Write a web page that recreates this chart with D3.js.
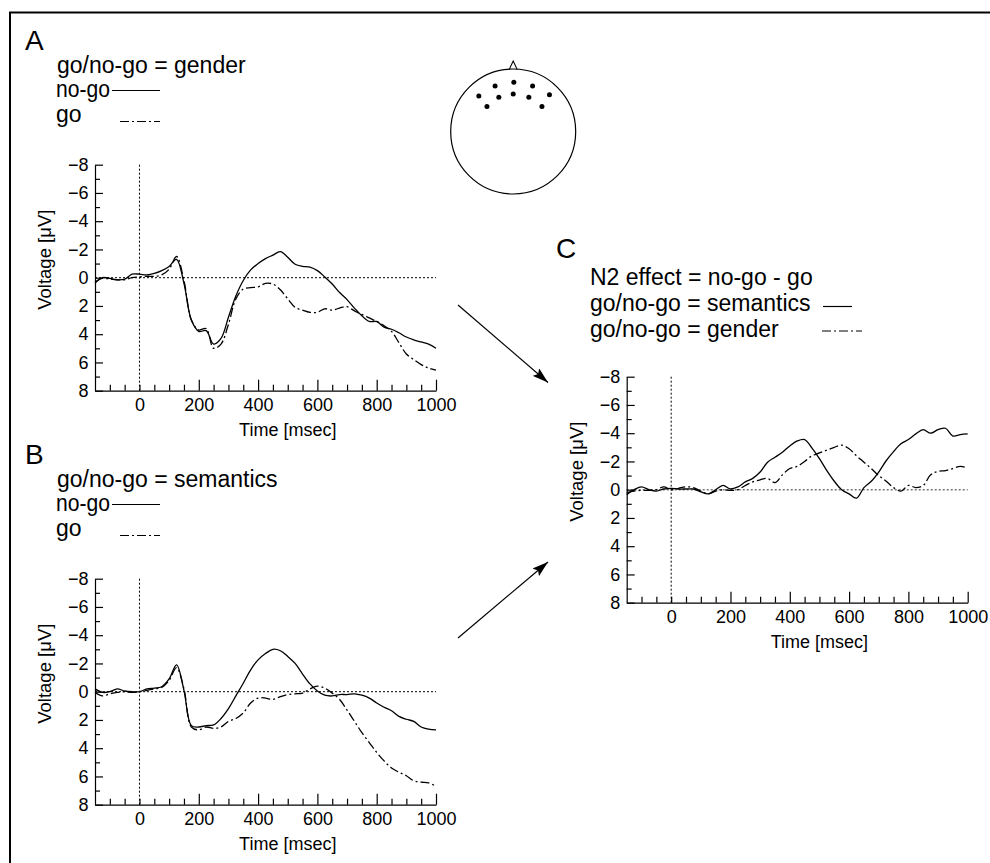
<!DOCTYPE html>
<html>
<head>
<meta charset="utf-8">
<script src="https://cdn.jsdelivr.net/npm/d3@7"></script>
<style>
body { margin: 0; background: #fff; }
</style>
</head>
<body>
<script>
var w = 990;
var h = 863;
var font = "'Liberation Sans', Arial, Helvetica, sans-serif";

// time axis (msec) shared by every waveform
var times = [-150, -125, -100, -75, -50, -25, 0, 25, 50, 75, 100, 125, 150, 175, 200, 225,
    250, 275, 300, 325, 350, 375, 400, 425, 450, 475, 500, 525, 550, 575, 600, 625,
    650, 675, 700, 725, 750, 775, 800, 825, 850, 875, 900, 925, 950, 975, 1000];

// A: go/no-go = gender
var genderNogo = [0.4, 0.0, 0.05, 0.15, 0.1, -0.25, -0.25, -0.2, -0.3, -0.5, -0.8, -1.3, 0.4, 3.0, 3.8, 3.75,
    4.7, 4.3, 2.8, 1.3, 0.2, -0.55, -1.0, -1.35, -1.6, -1.85, -1.45, -0.95, -0.8, -0.75, -0.5, -0.05,
    0.45, 1.05, 1.55, 2.15, 2.7, 3.1, 3.1, 3.5, 3.65, 3.9, 4.2, 4.4, 4.55, 4.7, 5.0];
var genderGo = [0.3, 0.05, 0.1, 0.15, 0.15, 0.0, -0.05, -0.1, -0.1, -0.2, -0.6, -1.5, 0.2, 3.0, 3.7, 3.6,
    5.0, 4.7, 3.3, 1.5, 0.8, 0.7, 0.65, 0.4, 0.45, 0.85, 1.5, 2.1, 2.3, 2.45, 2.45, 2.2,
    2.3, 2.15, 2.05, 2.35, 2.6, 2.85, 3.1, 3.4, 3.8, 4.6, 5.4, 5.8, 6.15, 6.4, 6.55];

// B: go/no-go = semantics
var semNogo = [-0.2, 0.05, 0.0, -0.2, -0.05, 0.0, 0.0, -0.2, -0.25, -0.35, -0.9, -1.9, -0.1, 2.4, 2.5, 2.4,
    2.35, 1.9, 1.2, 0.3, -0.6, -1.55, -2.25, -2.7, -3.0, -2.9, -2.5, -2.0, -1.25, -0.55, -0.05, 0.25,
    0.3, 0.2, 0.2, 0.15, 0.25, 0.45, 0.8, 1.1, 1.35, 1.75, 1.95, 2.1, 2.5, 2.65, 2.7];
var semGo = [0.05, 0.3, 0.15, 0.05, 0.0, 0.05, 0.0, -0.1, -0.2, -0.3, -0.8, -1.7, -0.2, 2.5, 2.7, 2.5,
    2.6, 2.5, 2.1, 1.9, 1.5, 0.8, 0.45, 0.45, 0.55, 0.35, 0.2, 0.15, 0.1, -0.2, -0.4, -0.25,
    0.1, 0.55, 1.3, 2.1, 2.9, 3.6, 4.3, 4.9, 5.4, 5.7, 5.95, 6.3, 6.4, 6.45, 6.7];

// C: N2 effect = no-go - go
var effectSem = [0.35, 0.0, -0.2, 0.0, 0.1, -0.05, -0.1, -0.05, -0.05, -0.05, 0.15, 0.3, 0.0, -0.3, -0.05, -0.2,
    -0.55, -0.8, -1.25, -1.95, -2.3, -2.65, -3.1, -3.45, -3.55, -2.95, -2.2, -1.35, -0.6, 0.0, 0.3, 0.6,
    -0.15, -0.6, -1.25, -2.05, -2.7, -3.25, -3.55, -3.95, -4.25, -4.0, -4.25, -4.35, -3.8, -3.9, -3.95];
var effectGender = [0.2, 0.1, 0.05, 0.05, 0.0, -0.2, 0.0, -0.1, -0.2, -0.15, 0.1, 0.3, 0.1, 0.0, 0.05, 0.0,
    -0.3, -0.55, -0.7, -0.8, -0.5, -1.05, -1.5, -1.65, -2.0, -2.4, -2.6, -2.8, -3.0, -3.15, -2.9, -2.4,
    -1.95, -1.5, -1.0, -0.6, -0.15, 0.1, -0.3, -0.15, -0.3, -1.05, -1.3, -1.35, -1.5, -1.65, -1.55];

// tick values
var xLabels = [0, 200, 400, 600, 800, 1000];
var xMajor = [200, 400, 600, 800, 1000];
var xMinor = [-100, -50, 0, 50, 100, 150, 250, 300, 350, 450, 500, 550, 650, 700, 750, 850, 900, 950];
var yLabels = [-8, -6, -4, -2, 0, 2, 4, 6, 8];
var yMinor = [-7, -5, -3, -1, 1, 3, 5, 7];

// electrode sites, head-relative (-1..1)
var electrodes = [[-0.29, -0.73], [0.01, -0.79], [0.31, -0.73],
    [-0.55, -0.57], [-0.23, -0.55], [0.0, -0.6], [0.25, -0.55], [0.58, -0.59],
    [-0.42, -0.40], [0.46, -0.40]];

var pw = 341, ph = 226;
var goDash = "9,3,2,3";

var svg = d3.select("body")
            .append("svg")
            .attr("width", w)
            .attr("height", h)
            .style("background", "#fff");

// outer frame (left and top edges only are visible)
svg.append("path")
    .attr("d", "M10," + h + "V12.5H" + w)
    .attr("fill", "none")
    .attr("stroke", "#000")
    .attr("stroke-width", 2);

function panel(left, top, lines, zeroStyle) {
    var g = svg.append("g").attr("transform", "translate(" + left + "," + top + ")");
    var x = d3.scaleLinear().domain([-150, 1000]).range([0, pw]);
    var y = d3.scaleLinear().domain([-8, 8]).range([0, ph]);

    g.append("line")
        .attr("x1", 0).attr("x2", pw)
        .attr("y1", y(0)).attr("y2", y(0))
        .attr("stroke", zeroStyle.color)
        .attr("stroke-width", zeroStyle.width)
        .attr("stroke-dasharray", "2,2");
    g.append("line")
        .attr("x1", x(0)).attr("x2", x(0))
        .attr("y1", 0).attr("y2", ph)
        .attr("stroke", "#000")
        .attr("stroke-width", 1)
        .attr("stroke-dasharray", "2,2");

    // x axis: minor ticks + axis line, major ticks, labels
    var xg = g.append("g").attr("transform", "translate(0," + ph + ")");
    xg.append("g").call(d3.axisBottom(x).tickValues(xMinor).tickSizeInner(-6).tickSizeOuter(0).tickFormat(""));
    xg.append("g").call(d3.axisBottom(x).tickValues(xMajor).tickSizeInner(-11).tickSizeOuter(0).tickFormat(""))
        .select(".domain").remove();
    xg.append("g").call(d3.axisBottom(x).tickValues(xLabels).tickSize(0).tickPadding(8).tickFormat(d3.format("d")))
        .attr("font-size", 18).attr("font-family", font)
        .select(".domain").remove();

    // y axis
    var yg = g.append("g");
    yg.append("g").call(d3.axisLeft(y).tickValues(yMinor).tickSizeInner(-5).tickSizeOuter(0).tickFormat(""));
    yg.append("g").call(d3.axisLeft(y).tickValues(yLabels).tickSizeInner(-8).tickSizeOuter(0).tickFormat(""))
        .select(".domain").remove();
    yg.append("g").call(d3.axisLeft(y).tickValues(yLabels).tickSize(0).tickPadding(6.5).tickFormat(d3.format("d")))
        .attr("font-size", 18).attr("font-family", font)
        .select(".domain").remove();
    g.selectAll(".domain, .tick line").attr("stroke-width", 1.2);

    g.append("text")
        .text("Time [msec]")
        .attr("x", x(500))
        .attr("y", ph + 45.5)
        .attr("text-anchor", "middle")
        .attr("font-family", font)
        .attr("font-size", "18px");
    g.append("text")
        .text("Voltage [\u03bcV]")
        .attr("transform", "translate(-44,95) rotate(-90)")
        .attr("text-anchor", "middle")
        .attr("font-family", font)
        .attr("font-size", "18.5px");

    var line = d3.line()
        .x(function(d, i) { return x(times[i]); })
        .y(function(d) { return y(d); })
        .curve(d3.curveCatmullRom);

    lines.forEach(function(s) {
        g.append("path")
            .datum(s.values)
            .attr("d", line)
            .attr("fill", "none")
            .attr("stroke", "#000")
            .attr("stroke-width", 1.3)
            .attr("stroke-dasharray", s.dash);
    });
}

function label(txt, x, y, size) {
    return svg.append("text")
        .text(txt)
        .attr("x", x)
        .attr("y", y)
        .attr("font-family", font)
        .attr("font-size", size + "px")
        .attr("fill", "#000");
}

function sample(x1, x2, y, dash) {
    svg.append("line")
        .attr("x1", x1).attr("x2", x2)
        .attr("y1", y).attr("y2", y)
        .attr("stroke", "#000")
        .attr("stroke-width", 1.2)
        .attr("stroke-dasharray", dash);
}

// panel A and B share layout, B is shifted down
var offB = 414;
[["A", "go/no-go = gender", 0], ["B", "go/no-go = semantics", offB]].forEach(function(p) {
    label(p[0], 25, 50 + p[2], 28);
    label(p[1], 57, 72.5 + p[2], 23);
    label("no-go", 56, 96.5 + p[2], 23).attr("textLength", 54).attr("lengthAdjust", "spacingAndGlyphs");
    label("go", 56, 121.5 + p[2], 23);
    sample(112, 160, 90.5 + p[2], null);
    sample(120, 160, 121.5 + p[2], goDash);
});

var plainZero = {color: "#000", width: 1};
panel(95, 164.7, [{values: genderNogo, dash: null}, {values: genderGo, dash: goDash}], plainZero);
panel(95, 164.7 + offB, [{values: semNogo, dash: null}, {values: semGo, dash: goDash}], plainZero);

// panel C
label("C", 556, 258, 28);
label("N2 effect = no-go - go", 590, 285, 23);
label("go/no-go = semantics", 590, 311, 23);
label("go/no-go = gender", 590, 337, 23);
sample(823, 852, 306.5, null);
sample(822, 862, 331, goDash);
panel(626.7, 376.7, [{values: effectSem, dash: null}, {values: effectGender, dash: goDash}], {color: "#777", width: 1.6});

// arrows from A and B into C
svg.append("defs").append("marker")
    .attr("id", "head")
    .attr("viewBox", "0 0 16 10")
    .attr("markerUnits", "userSpaceOnUse")
    .attr("markerWidth", 16)
    .attr("markerHeight", 10)
    .attr("refX", 16)
    .attr("refY", 5)
    .attr("orient", "auto")
    .append("path")
    .attr("d", "M0,0L16,5L0,10L3,5Z")
    .attr("fill", "#000");
[[458, 305, 548, 382.5], [458, 638, 548, 562]].forEach(function(a) {
    svg.append("line")
        .attr("x1", a[0]).attr("y1", a[1])
        .attr("x2", a[2]).attr("y2", a[3])
        .attr("stroke", "#000")
        .attr("stroke-width", 1.2)
        .attr("marker-end", "url(#head)");
});

// head map with electrode sites
var hx = d3.scaleLinear().domain([-1, 1]).range([450.7, 575.7]);
var hy = d3.scaleLinear().domain([-1, 1]).range([69, 194]);
svg.append("path")
    .attr("d", "M" + hx(-0.065) + "," + hy(-0.99) + "L" + hx(0) + "," + (hy(-1) - 8) + "L" + hx(0.065) + "," + hy(-0.99))
    .attr("fill", "none")
    .attr("stroke", "#000")
    .attr("stroke-width", 1.1);
svg.append("circle")
    .attr("cx", hx(0))
    .attr("cy", hy(0))
    .attr("r", hx(1) - hx(0))
    .attr("fill", "none")
    .attr("stroke", "#000")
    .attr("stroke-width", 1.2);
svg.selectAll("circle.site")
    .data(electrodes)
    .enter()
    .append("circle")
    .attr("class", "site")
    .attr("cx", function(d) { return hx(d[0]); })
    .attr("cy", function(d) { return hy(d[1]); })
    .attr("r", 2.5)
    .attr("fill", "#000");
</script>
</body>
</html>
